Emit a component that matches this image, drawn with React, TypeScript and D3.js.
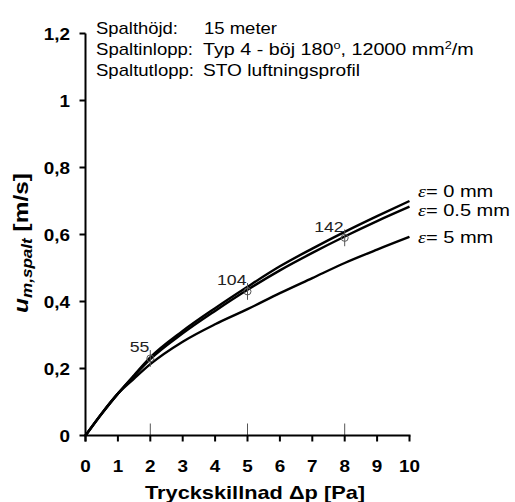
import React from "react";
import * as d3 from "d3";

const xs = [0, 0.5, 1, 1.5, 2, 3, 4, 5, 6, 7, 8, 9, 10];
const eps0 = [0, 0.065, 0.125, 0.18, 0.233, 0.312, 0.38, 0.444, 0.505, 0.558, 0.608, 0.655, 0.7];
const eps05 = [0, 0.065, 0.125, 0.178, 0.228, 0.305, 0.372, 0.435, 0.493, 0.545, 0.594, 0.64, 0.683];
const eps5 = [0, 0.066, 0.125, 0.17, 0.213, 0.28, 0.332, 0.377, 0.425, 0.47, 0.515, 0.555, 0.593];
const seriesLabels = ["0", "0.5", "5"];

const pointX = [2, 5, 8];
const pointY = [0.23, 0.43, 0.59];
const pointErr = [0.025, 0.025, 0.025];
const pointLabels = ["55", "104", "142"];

const xTicks = [0, 1, 2, 3, 4, 5, 6, 7, 8, 9, 10];
const yTicks = [0, 0.2, 0.4, 0.6, 0.8, 1, 1.2];

const FONT = "'Liberation Sans', Arial, sans-serif";
const SX = 1.18;

export default function App() {
  const x = d3.scaleLinear().domain([0, 10]).range([85.5, 409.5]);
  const y = d3.scaleLinear().domain([0, 1.2]).range([435.5, 33.5]);
  const line = d3
    .line<number>()
    .x((_, i) => x(xs[i]))
    .y((d) => y(d))
    .curve(d3.curveMonotoneX);
  const series = [eps0, eps05, eps5];
  const legendY = [197, 216, 243];
  const fmt = (v: number) => (Math.round(v * 10) / 10).toString().replace(".", ",");

  return (
    <svg
      width={515}
      height={502}
      style={{ position: "absolute", left: 0, top: 0, background: "#fff" }}
      fontFamily={FONT}
    >
      {/* header */}
      <g fontSize={17} fill="#000">
        <text x={96} y={34} textLength={82} lengthAdjust="spacingAndGlyphs">Spalthöjd:</text>
        <text x={204} y={34} textLength={73} lengthAdjust="spacingAndGlyphs">15 meter</text>
        <text x={96} y={55} textLength={97} lengthAdjust="spacingAndGlyphs">Spaltinlopp:</text>
        <g transform={`translate(203,55) scale(1.16,1)`}>
          <text x={0} y={0}>
            Typ 4 - böj 180
            <tspan fontSize={11} dy={-6}>o</tspan>
            <tspan dy={6}>, 12000  mm</tspan>
            <tspan fontSize={11} dy={-6}>2</tspan>
            <tspan dy={6}>/m</tspan>
          </text>
        </g>
        <text x={96} y={76} textLength={98} lengthAdjust="spacingAndGlyphs">Spaltutlopp:</text>
        <text x={203} y={76} textLength={157} lengthAdjust="spacingAndGlyphs">STO luftningsprofil</text>
      </g>

      {/* curves */}
      {series.map((s, i) => (
        <path key={i} d={line(s) || ""} fill="none" stroke="#000" strokeWidth={2.4} />
      ))}

      {/* data points with error bars */}
      {pointX.map((px, i) => (
        <g key={i}>
          <line
            x1={x(px)}
            x2={x(px)}
            y1={y(pointY[i] + pointErr[i])}
            y2={y(pointY[i] - pointErr[i])}
            stroke="#555"
            strokeWidth={1}
          />
          <circle cx={x(px)} cy={y(pointY[i])} r={3.5} fill="none" stroke="#555" strokeWidth={1} />
          <g transform={`translate(${x(px) - 1},${y(pointY[i]) - 6}) scale(${SX},1)`}>
            <text x={0} y={0} fontSize={15} textAnchor="end" fill="#222">
              {pointLabels[i]}
            </text>
          </g>
        </g>
      ))}

      {/* small gray marks above x axis */}
      {pointX.map((px, i) => (
        <line key={i} x1={x(px)} x2={x(px)} y1={y(0) - 12} y2={y(0)} stroke="#555" strokeWidth={1} />
      ))}

      {/* axes */}
      <line x1={x(0)} x2={x(0)} y1={y(1.2)} y2={y(0) + 6} stroke="#000" strokeWidth={2} />
      <line x1={x(0) - 1} x2={x(10) + 1} y1={y(0)} y2={y(0)} stroke="#000" strokeWidth={2} />
      {yTicks.map((t) => (
        <g key={t}>
          <line x1={x(0) - 6} x2={x(0)} y1={y(t)} y2={y(t)} stroke="#000" strokeWidth={2} />
          <g transform={`translate(70,${y(t) + 6}) scale(${SX},1)`}>
            <text x={0} y={0} textAnchor="end" fontSize={16} fontWeight="bold">
              {fmt(t)}
            </text>
          </g>
        </g>
      ))}
      {xTicks.map((t) => (
        <g key={t}>
          <line x1={x(t)} x2={x(t)} y1={y(0)} y2={y(0) + 6} stroke="#000" strokeWidth={2} />
          <g transform={`translate(${x(t)},472) scale(${SX},1)`}>
            <text x={0} y={0} textAnchor="middle" fontSize={16} fontWeight="bold">
              {t}
            </text>
          </g>
        </g>
      ))}

      {/* axis titles */}
      <text x={145} y={499} fontSize={19} fontWeight="bold" textLength={220} lengthAdjust="spacingAndGlyphs">
        Tryckskillnad Δp [Pa]
      </text>
      <text
        transform="translate(28,313) rotate(-90)"
        textAnchor="start"
        fontSize={20}
        fontWeight="bold"
        textLength={140}
        lengthAdjust="spacingAndGlyphs"
      >
        <tspan fontStyle="italic">u</tspan>
        <tspan fontStyle="italic" fontSize={14} dy={4}>m,spalt</tspan>
        <tspan dy={-4}> [m/s]</tspan>
      </text>

      {/* legend */}
      {seriesLabels.map((l, i) => (
        <g key={l} transform={`translate(418,${legendY[i]}) scale(${SX},1)`}>
          <text x={0} y={0} fontSize={17}>
            <tspan fontStyle="italic" fontFamily="'Liberation Serif', 'Times New Roman', serif">ε</tspan>
            <tspan>= {l} mm</tspan>
          </text>
        </g>
      ))}
    </svg>
  );
}
